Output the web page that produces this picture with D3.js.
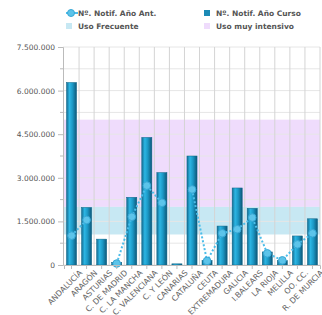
<!DOCTYPE html>
<html>
<head>
<meta charset="utf-8">
<script src="https://cdn.jsdelivr.net/npm/d3@7"></script>
<style>
  body { margin: 0; background: #fff; }
  text { font-family: "DejaVu Sans", sans-serif; }
</style>
</head>
<body>
<div id="chart"></div>
<script>
// data
var regions = ["ANDALUCÍA", "ARAGÓN", "ASTURIAS", "C. DE MADRID", "C. LA MANCHA", "C. VALENCIANA",
  "C. Y LEÓN", "CANARIAS", "CATALUÑA", "CEUTA", "EXTREMADURA", "GALICIA", "I.BALEARS",
  "LA RIOJA", "MELILLA", "OO. CC.", "R. DE MURCIA"];
var actual = [6280000, 1980000, 890000, 90000, 2330000, 4390000, 3180000, 40000, 3750000,
  160000, 1340000, 2650000, 1950000, 450000, 150000, 1000000, 1590000];
var previous = [1010000, 1550000, null, 50000, 1660000, 2730000, 2140000, null, 2600000,
  140000, 1090000, 1230000, 1630000, 400000, 160000, 710000, 1090000];
var yTicks = [0, 1500000, 3000000, 4500000, 6000000, 7500000];
var frequentBand = [1050000, 2000000];
var intensiveBand = [2000000, 5000000];

var margin = { top: 47, right: 2, bottom: 50, left: 63 };
var width = 322 - margin.left - margin.right;
var height = 315 - margin.top - margin.bottom;

var svg = d3.select("#chart")
  .append("svg")
  .attr("width", 322)
  .attr("height", 315);

var defs = svg.append("defs");
var grad = defs.append("linearGradient")
  .attr("id", "barGrad")
  .attr("x1", "0%").attr("x2", "100%").attr("y1", "0%").attr("y2", "0%");
grad.append("stop").attr("offset", "0%").attr("stop-color", "#146c92");
grad.append("stop").attr("offset", "30%").attr("stop-color", "#2cb6e4");
grad.append("stop").attr("offset", "60%").attr("stop-color", "#1b97c4");
grad.append("stop").attr("offset", "100%").attr("stop-color", "#0d5778");

var g = svg.append("g")
  .attr("transform", "translate(" + margin.left + "," + margin.top + ")");

var x = d3.scaleBand()
  .domain(regions)
  .range([1, width])
  .paddingInner(0.33)
  .paddingOuter(0.165);

var y = d3.scaleLinear()
  .domain([0, 7500000])
  .range([height, 0]);

// bands
g.append("rect")
  .attr("x", 0).attr("width", width)
  .attr("y", y(intensiveBand[1]))
  .attr("height", y(intensiveBand[0]) - y(intensiveBand[1]))
  .attr("fill", "#efdcfc");
g.append("rect")
  .attr("x", 0).attr("width", width)
  .attr("y", y(frequentBand[1]))
  .attr("height", y(frequentBand[0]) - y(frequentBand[1]))
  .attr("fill", "#c7e8f3");

// horizontal grid (major + minor)
var gridVals = d3.range(0, 7500001, 750000);
g.selectAll(".hgrid")
  .data(gridVals)
  .enter()
  .append("line")
  .attr("x1", 0).attr("x2", width)
  .attr("y1", function (d) { return y(d); })
  .attr("y2", function (d) { return y(d); })
  .attr("stroke", "#e6e6e6")
  .attr("stroke-width", 1);

// vertical grid at band edges
var step = x.step();
g.selectAll(".vgrid")
  .data(regions)
  .enter()
  .append("line")
  .attr("x1", function (d) { return x(d) + x.bandwidth() + (step - x.bandwidth()) / 2; })
  .attr("x2", function (d) { return x(d) + x.bandwidth() + (step - x.bandwidth()) / 2; })
  .attr("y1", 0).attr("y2", height)
  .attr("stroke", "#d4d4d4");

// bars
g.selectAll(".bar")
  .data(regions)
  .enter()
  .append("rect")
  .attr("x", function (d) { return x(d); })
  .attr("width", x.bandwidth())
  .attr("y", function (d, i) { return y(actual[i]); })
  .attr("height", function (d, i) { return height - y(actual[i]); })
  .attr("fill", "url(#barGrad)")
  .attr("stroke", "#0f6688")
  .attr("stroke-width", 0.5);

// previous year line
var pts = regions.map(function (d, i) { return { k: d, v: previous[i] }; });
var line = d3.line()
  .defined(function (d) { return d.v != null; })
  .x(function (d) { return x(d.k) + x.bandwidth() / 2; })
  .y(function (d) { return y(d.v); });

g.append("path")
  .datum(pts)
  .attr("d", line)
  .attr("fill", "none")
  .attr("stroke", "#4cbde9")
  .attr("stroke-width", 2)
  .attr("stroke-dasharray", "2,2");

g.selectAll(".dot")
  .data(pts.filter(function (d) { return d.v != null; }))
  .enter()
  .append("circle")
  .attr("cx", function (d) { return x(d.k) + x.bandwidth() / 2; })
  .attr("cy", function (d) { return y(d.v); })
  .attr("r", 3.8)
  .attr("fill", "#5cc4ea")
  .attr("stroke", "#38a8d6")
  .attr("stroke-width", 1);

// Y axis
var fmt = function (v) { return d3.format(",")(v).replace(/,/g, "."); };
var yAxis = g.append("g")
  .call(d3.axisLeft(y).tickValues(yTicks).tickFormat(fmt).tickSize(5).tickPadding(3));
yAxis.select(".domain").attr("stroke", "#bbb");
yAxis.selectAll(".tick line").attr("stroke", "#bbb");
yAxis.selectAll("text").attr("fill", "#555").style("font-size", "7.5px");
g.selectAll(".minorTick")
  .data(gridVals.filter(function (d) { return yTicks.indexOf(d) < 0; }))
  .enter()
  .append("line")
  .attr("x1", -3).attr("x2", 0)
  .attr("y1", function (d) { return y(d); })
  .attr("y2", function (d) { return y(d); })
  .attr("stroke", "#bbb");

// X axis
var xAxis = g.append("g")
  .attr("transform", "translate(0," + height + ")")
  .call(d3.axisBottom(x).tickSize(4).tickPadding(2));
xAxis.select(".domain").attr("stroke", "#bbb");
xAxis.selectAll(".tick line").attr("stroke", "#bbb");
xAxis.selectAll("text")
  .attr("fill", "#666")
  .style("font-size", "7.8px")
  .attr("text-anchor", "end")
  .attr("transform", "translate(4,1) rotate(-45)")
  .attr("dy", "0.55em")
  .attr("dx", "0");

// legend
var lg = svg.append("g").style("font-size", "7.5px").style("font-weight", "bold").attr("fill", "#555");
lg.append("line").attr("x1", 66).attr("x2", 78).attr("y1", 13).attr("y2", 13)
  .attr("stroke", "#4cbde9").attr("stroke-width", 2);
lg.append("circle").attr("cx", 71).attr("cy", 13).attr("r", 3.5)
  .attr("fill", "#5cc4ea").attr("stroke", "#38a8d6");
lg.append("text").attr("x", 78).attr("y", 16).text("Nº. Notif. Año Ant.");
lg.append("rect").attr("x", 204).attr("y", 10).attr("width", 6).attr("height", 6).attr("fill", "#1b8ab5");
lg.append("text").attr("x", 216).attr("y", 16).text("Nº. Notif. Año Curso");
lg.append("rect").attr("x", 66).attr("y", 23).attr("width", 6).attr("height", 6).attr("fill", "#c7e8f3");
lg.append("text").attr("x", 78).attr("y", 29).text("Uso Frecuente");
lg.append("rect").attr("x", 204).attr("y", 23).attr("width", 6).attr("height", 6).attr("fill", "#efdcfc");
lg.append("text").attr("x", 216).attr("y", 29).text("Uso muy intensivo");
</script>
</body>
</html>
